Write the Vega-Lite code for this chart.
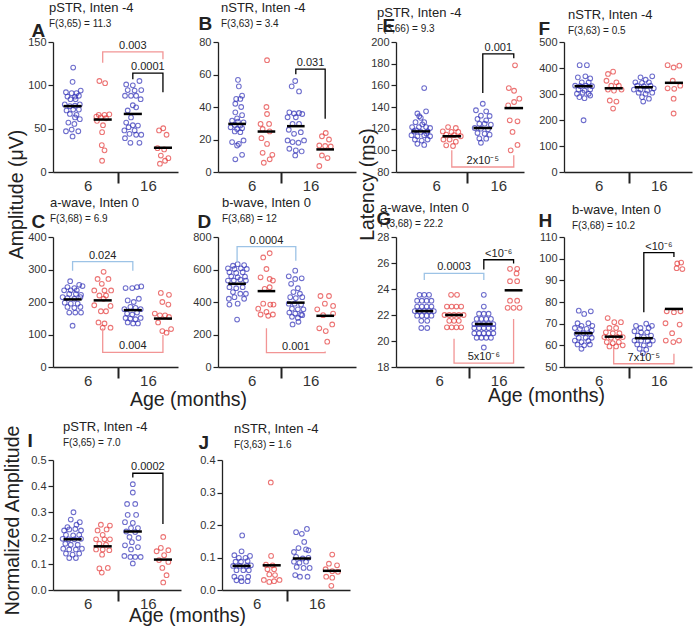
{
"$schema":"https://vega.github.io/schema/vega-lite/v6.json",
"background":"white",
"padding":{"left":1,"top":2,"right":2,"bottom":2},
"config":{
 "view":{"stroke":null},
 "font":"Liberation Sans",
 "axis":{"grid":false,"domainColor":"#222","domainWidth":1.3,"tickColor":"#222","labelColor":"#333","labelFont":"Liberation Sans","titleFont":"Liberation Sans","titleColor":"#222","labelFontSize":11},
 "axisY":{"tickSize":5,"tickWidth":1.2,"labelPadding":2,"titleFontSize":19,"titleFontWeight":"bold","titleAlign":"left","titleBaseline":"alphabetic"},
 "axisX":{"tickSize":11,"tickWidth":2,"labelFontSize":15,"labelPadding":-5,"titleFontSize":19.5,"titleFontWeight":"normal","titleBaseline":"alphabetic","titleAlign":"center"},
 "title":{"anchor":"start","frame":"group","font":"Liberation Sans","fontSize":13,"fontWeight":"normal","color":"#222","subtitleFont":"Liberation Sans","subtitleFontSize":10,"subtitleColor":"#222","subtitlePadding":4},
 "point":{"shape":"circle","filled":false,"size":22,"strokeWidth":1.1},
 "rule":{"strokeWidth":2.5,"color":"#000"},
 "line":{"strokeWidth":1.3},
 "text":{"font":"Liberation Sans","fontSize":11,"baseline":"alphabetic","dy":-3,"color":"#222","align":"center"}
},
"datasets":{
"pts":[
{"p":"A","g":1,"x":1.02,"y":120.5},{"p":"A","g":1,"x":1,"y":104},{"p":"A","g":1,"x":0.78,"y":92},{"p":"A","g":1,"x":0.97,"y":91},{"p":"A","g":1,"x":1.13,"y":91},{"p":"A","g":1,"x":1.27,"y":94},{"p":"A","g":1,"x":0.83,"y":87},{"p":"A","g":1,"x":1.08,"y":87},{"p":"A","g":1,"x":1.21,"y":88},{"p":"A","g":1,"x":0.93,"y":84},{"p":"A","g":1,"x":1.1,"y":84},{"p":"A","g":1,"x":0.74,"y":78},{"p":"A","g":1,"x":0.91,"y":76},{"p":"A","g":1,"x":1.08,"y":76.5},{"p":"A","g":1,"x":1.24,"y":78},{"p":"A","g":1,"x":0.8,"y":71},{"p":"A","g":1,"x":1.02,"y":72},{"p":"A","g":1,"x":1.21,"y":72},{"p":"A","g":1,"x":0.91,"y":67},{"p":"A","g":1,"x":1.13,"y":66},{"p":"A","g":1,"x":1.08,"y":63},{"p":"A","g":1,"x":1.24,"y":61},{"p":"A","g":1,"x":0.86,"y":57},{"p":"A","g":1,"x":1.06,"y":55.5},{"p":"A","g":1,"x":0.78,"y":47},{"p":"A","g":1,"x":0.97,"y":49},{"p":"A","g":1,"x":1.19,"y":47},{"p":"A","g":1,"x":1,"y":41},
{"p":"A","g":2,"x":1.89,"y":105},{"p":"A","g":2,"x":2.08,"y":102.5},{"p":"A","g":2,"x":1.87,"y":66},{"p":"A","g":2,"x":2.06,"y":66},{"p":"A","g":2,"x":2.22,"y":66.5},{"p":"A","g":2,"x":1.79,"y":64},{"p":"A","g":2,"x":1.94,"y":63},{"p":"A","g":2,"x":2.11,"y":62},{"p":"A","g":2,"x":1.81,"y":59},{"p":"A","g":2,"x":2.01,"y":54},{"p":"A","g":2,"x":1.98,"y":46},{"p":"A","g":2,"x":1.97,"y":31},{"p":"A","g":2,"x":2.06,"y":25},{"p":"A","g":2,"x":1.98,"y":13},
{"p":"A","g":3,"x":2.78,"y":101},{"p":"A","g":3,"x":3,"y":100},{"p":"A","g":3,"x":3.22,"y":105},{"p":"A","g":3,"x":2.83,"y":94.5},{"p":"A","g":3,"x":3.06,"y":94},{"p":"A","g":3,"x":3.28,"y":94.5},{"p":"A","g":3,"x":2.74,"y":88},{"p":"A","g":3,"x":2.94,"y":88},{"p":"A","g":3,"x":3.11,"y":88},{"p":"A","g":3,"x":3.26,"y":84},{"p":"A","g":3,"x":3,"y":77},{"p":"A","g":3,"x":3.11,"y":74.6},{"p":"A","g":3,"x":2.83,"y":71},{"p":"A","g":3,"x":2.94,"y":63},{"p":"A","g":3,"x":2.78,"y":57},{"p":"A","g":3,"x":3,"y":54},{"p":"A","g":3,"x":3.17,"y":53.6},{"p":"A","g":3,"x":2.86,"y":51.7},{"p":"A","g":3,"x":3.06,"y":48},{"p":"A","g":3,"x":2.72,"y":48},{"p":"A","g":3,"x":2.89,"y":44},{"p":"A","g":3,"x":3.11,"y":43},{"p":"A","g":3,"x":3.28,"y":43},{"p":"A","g":3,"x":2.74,"y":39},{"p":"A","g":3,"x":2.92,"y":33.7},{"p":"A","g":3,"x":3.22,"y":33.7},
{"p":"A","g":4,"x":4.01,"y":50.5},{"p":"A","g":4,"x":3.87,"y":48},{"p":"A","g":4,"x":4.12,"y":43},{"p":"A","g":4,"x":3.82,"y":27.5},{"p":"A","g":4,"x":4.04,"y":26},{"p":"A","g":4,"x":3.93,"y":19},{"p":"A","g":4,"x":4.18,"y":16},{"p":"A","g":4,"x":4.07,"y":13},{"p":"A","g":4,"x":3.9,"y":9.6},
{"p":"B","g":1,"x":1.03,"y":56.7},{"p":"B","g":1,"x":1.06,"y":52.7},{"p":"B","g":1,"x":1.17,"y":47},{"p":"B","g":1,"x":0.97,"y":45},{"p":"B","g":1,"x":1.11,"y":45},{"p":"B","g":1,"x":0.94,"y":42},{"p":"B","g":1,"x":1.14,"y":40},{"p":"B","g":1,"x":0.94,"y":36.7},{"p":"B","g":1,"x":1.17,"y":35},{"p":"B","g":1,"x":1,"y":33},{"p":"B","g":1,"x":0.83,"y":31.6},{"p":"B","g":1,"x":1.03,"y":31},{"p":"B","g":1,"x":1.22,"y":30.6},{"p":"B","g":1,"x":0.92,"y":29},{"p":"B","g":1,"x":1.11,"y":28.6},{"p":"B","g":1,"x":0.78,"y":27.5},{"p":"B","g":1,"x":1,"y":26.5},{"p":"B","g":1,"x":1.17,"y":27},{"p":"B","g":1,"x":0.92,"y":25},{"p":"B","g":1,"x":1.11,"y":24.5},{"p":"B","g":1,"x":1.22,"y":19.4},{"p":"B","g":1,"x":0.83,"y":18.4},{"p":"B","g":1,"x":1.06,"y":17.3},{"p":"B","g":1,"x":1,"y":16.3},{"p":"B","g":1,"x":1.17,"y":10.6},{"p":"B","g":1,"x":0.94,"y":7.8},
{"p":"B","g":2,"x":2.02,"y":68.8},{"p":"B","g":2,"x":2,"y":40},{"p":"B","g":2,"x":2.02,"y":35.7},{"p":"B","g":2,"x":1.8,"y":29.6},{"p":"B","g":2,"x":2.09,"y":29.6},{"p":"B","g":2,"x":1.87,"y":26.5},{"p":"B","g":2,"x":2.11,"y":25},{"p":"B","g":2,"x":1.83,"y":20.8},{"p":"B","g":2,"x":2.02,"y":17.3},{"p":"B","g":2,"x":1.87,"y":11.8},{"p":"B","g":2,"x":2.2,"y":10.6},{"p":"B","g":2,"x":2.11,"y":7.8},{"p":"B","g":2,"x":1.91,"y":5.7},
{"p":"B","g":3,"x":2.98,"y":56},{"p":"B","g":3,"x":2.86,"y":52.7},{"p":"B","g":3,"x":3.11,"y":49.6},{"p":"B","g":3,"x":2.78,"y":36.7},{"p":"B","g":3,"x":2.94,"y":36},{"p":"B","g":3,"x":3.11,"y":36.3},{"p":"B","g":3,"x":3.22,"y":35.7},{"p":"B","g":3,"x":2.72,"y":33.7},{"p":"B","g":3,"x":3,"y":33.7},{"p":"B","g":3,"x":2.89,"y":29.6},{"p":"B","g":3,"x":3.11,"y":29.6},{"p":"B","g":3,"x":2.76,"y":26},{"p":"B","g":3,"x":2.94,"y":23.5},{"p":"B","g":3,"x":3.17,"y":24.5},{"p":"B","g":3,"x":2.72,"y":19.4},{"p":"B","g":3,"x":2.89,"y":18.4},{"p":"B","g":3,"x":3.09,"y":18},{"p":"B","g":3,"x":3.28,"y":19.4},{"p":"B","g":3,"x":2.78,"y":14.3},{"p":"B","g":3,"x":3,"y":13.3},{"p":"B","g":3,"x":3.2,"y":12.7},{"p":"B","g":3,"x":2.98,"y":10.2},
{"p":"B","g":4,"x":4.02,"y":24},{"p":"B","g":4,"x":3.89,"y":22},{"p":"B","g":4,"x":4.13,"y":20},{"p":"B","g":4,"x":3.8,"y":16.3},{"p":"B","g":4,"x":4,"y":16},{"p":"B","g":4,"x":4.19,"y":15.7},{"p":"B","g":4,"x":3.89,"y":10.2},{"p":"B","g":4,"x":4.08,"y":8.6},{"p":"B","g":4,"x":3.8,"y":3.7},
{"p":"C","g":1,"x":0.92,"y":264},{"p":"C","g":1,"x":1.22,"y":253},{"p":"C","g":1,"x":0.83,"y":246},{"p":"C","g":1,"x":1.06,"y":243},{"p":"C","g":1,"x":1.33,"y":249},{"p":"C","g":1,"x":0.72,"y":236},{"p":"C","g":1,"x":0.94,"y":236},{"p":"C","g":1,"x":1.14,"y":236},{"p":"C","g":1,"x":0.89,"y":225},{"p":"C","g":1,"x":1.11,"y":225},{"p":"C","g":1,"x":1.28,"y":222},{"p":"C","g":1,"x":0.67,"y":215},{"p":"C","g":1,"x":0.83,"y":212},{"p":"C","g":1,"x":1.06,"y":210},{"p":"C","g":1,"x":1.26,"y":215},{"p":"C","g":1,"x":0.74,"y":198},{"p":"C","g":1,"x":0.94,"y":195},{"p":"C","g":1,"x":1.17,"y":195},{"p":"C","g":1,"x":0.83,"y":185},{"p":"C","g":1,"x":1.06,"y":182},{"p":"C","g":1,"x":1.26,"y":185},{"p":"C","g":1,"x":0.89,"y":167.5},{"p":"C","g":1,"x":1.09,"y":167.5},{"p":"C","g":1,"x":1.28,"y":167.5},{"p":"C","g":1,"x":1,"y":127},
{"p":"C","g":2,"x":2.03,"y":293},{"p":"C","g":2,"x":1.83,"y":271},{"p":"C","g":2,"x":2.19,"y":271},{"p":"C","g":2,"x":1.97,"y":256},{"p":"C","g":2,"x":1.72,"y":235.5},{"p":"C","g":2,"x":2.06,"y":235.5},{"p":"C","g":2,"x":1.89,"y":220},{"p":"C","g":2,"x":2.11,"y":220},{"p":"C","g":2,"x":2.28,"y":235.5},{"p":"C","g":2,"x":2.03,"y":210},{"p":"C","g":2,"x":1.72,"y":190},{"p":"C","g":2,"x":1.94,"y":171.6},{"p":"C","g":2,"x":2.11,"y":171.6},{"p":"C","g":2,"x":2.26,"y":188},{"p":"C","g":2,"x":1.86,"y":137},{"p":"C","g":2,"x":2.06,"y":134},{"p":"C","g":2,"x":2,"y":121},{"p":"C","g":2,"x":2.26,"y":121},
{"p":"C","g":3,"x":2.76,"y":243},{"p":"C","g":3,"x":2.98,"y":243},{"p":"C","g":3,"x":3.14,"y":246},{"p":"C","g":3,"x":3.28,"y":248},{"p":"C","g":3,"x":2.83,"y":205},{"p":"C","g":3,"x":3.03,"y":200},{"p":"C","g":3,"x":3.2,"y":210},{"p":"C","g":3,"x":2.92,"y":185},{"p":"C","g":3,"x":3.09,"y":182},{"p":"C","g":3,"x":2.81,"y":164.5},{"p":"C","g":3,"x":2.98,"y":161.4},{"p":"C","g":3,"x":3.14,"y":167.5},{"p":"C","g":3,"x":2.76,"y":151},{"p":"C","g":3,"x":2.92,"y":149},{"p":"C","g":3,"x":3.09,"y":147},{"p":"C","g":3,"x":3.26,"y":151},{"p":"C","g":3,"x":2.83,"y":137},{"p":"C","g":3,"x":3.01,"y":134},{"p":"C","g":3,"x":3.17,"y":134},{"p":"C","g":3,"x":2.72,"y":178},{"p":"C","g":3,"x":3.26,"y":178},
{"p":"C","g":4,"x":3.93,"y":228},{"p":"C","g":4,"x":4.2,"y":222},{"p":"C","g":4,"x":3.98,"y":200},{"p":"C","g":4,"x":4.18,"y":192},{"p":"C","g":4,"x":3.73,"y":164.5},{"p":"C","g":4,"x":3.9,"y":159},{"p":"C","g":4,"x":4.07,"y":159},{"p":"C","g":4,"x":4.2,"y":154},{"p":"C","g":4,"x":3.84,"y":137},{"p":"C","g":4,"x":3.98,"y":110.7},{"p":"C","g":4,"x":4.27,"y":116.8},{"p":"C","g":4,"x":4.12,"y":105.6},
{"p":"D","g":1,"x":1.02,"y":633},{"p":"D","g":1,"x":0.86,"y":623},{"p":"D","g":1,"x":1.24,"y":627},{"p":"D","g":1,"x":0.69,"y":607},{"p":"D","g":1,"x":0.91,"y":603},{"p":"D","g":1,"x":1.13,"y":607},{"p":"D","g":1,"x":1.33,"y":603},{"p":"D","g":1,"x":0.74,"y":583},{"p":"D","g":1,"x":0.97,"y":579},{"p":"D","g":1,"x":1.19,"y":583},{"p":"D","g":1,"x":0.8,"y":558},{"p":"D","g":1,"x":1.02,"y":552},{"p":"D","g":1,"x":1.27,"y":556},{"p":"D","g":1,"x":0.69,"y":532},{"p":"D","g":1,"x":0.89,"y":532},{"p":"D","g":1,"x":1.11,"y":538},{"p":"D","g":1,"x":1.3,"y":532},{"p":"D","g":1,"x":0.74,"y":491},{"p":"D","g":1,"x":0.97,"y":485},{"p":"D","g":1,"x":1.19,"y":491},{"p":"D","g":1,"x":0.86,"y":461},{"p":"D","g":1,"x":1.11,"y":451},{"p":"D","g":1,"x":1.3,"y":451},{"p":"D","g":1,"x":0.91,"y":430},{"p":"D","g":1,"x":0.72,"y":420},{"p":"D","g":1,"x":1.24,"y":420},{"p":"D","g":1,"x":1.02,"y":390},{"p":"D","g":1,"x":0.74,"y":384},{"p":"D","g":1,"x":1,"y":292},
{"p":"D","g":2,"x":2.11,"y":700},{"p":"D","g":2,"x":1.89,"y":674},{"p":"D","g":2,"x":2,"y":603},{"p":"D","g":2,"x":1.8,"y":552},{"p":"D","g":2,"x":2.11,"y":542},{"p":"D","g":2,"x":2.22,"y":532},{"p":"D","g":2,"x":1.94,"y":481},{"p":"D","g":2,"x":2.11,"y":491},{"p":"D","g":2,"x":1.89,"y":390},{"p":"D","g":2,"x":2.13,"y":384},{"p":"D","g":2,"x":2.24,"y":384},{"p":"D","g":2,"x":1.72,"y":359},{"p":"D","g":2,"x":2,"y":339},{"p":"D","g":2,"x":1.8,"y":323},{"p":"D","g":2,"x":2.06,"y":315},{"p":"D","g":2,"x":2.22,"y":323},
{"p":"D","g":3,"x":2.98,"y":593},{"p":"D","g":3,"x":2.76,"y":558},{"p":"D","g":3,"x":2.98,"y":542},{"p":"D","g":3,"x":3.2,"y":546},{"p":"D","g":3,"x":2.84,"y":512},{"p":"D","g":3,"x":3.07,"y":485},{"p":"D","g":3,"x":2.92,"y":461},{"p":"D","g":3,"x":3.14,"y":451},{"p":"D","g":3,"x":2.81,"y":430},{"p":"D","g":3,"x":3,"y":424},{"p":"D","g":3,"x":3.22,"y":430},{"p":"D","g":3,"x":2.76,"y":390},{"p":"D","g":3,"x":2.96,"y":390},{"p":"D","g":3,"x":3.18,"y":384},{"p":"D","g":3,"x":2.87,"y":359},{"p":"D","g":3,"x":3.07,"y":355},{"p":"D","g":3,"x":3.26,"y":355},{"p":"D","g":3,"x":2.78,"y":335},{"p":"D","g":3,"x":2.98,"y":329},{"p":"D","g":3,"x":3.18,"y":323},{"p":"D","g":3,"x":2.87,"y":309},{"p":"D","g":3,"x":3.07,"y":302},{"p":"D","g":3,"x":3.22,"y":319},{"p":"D","g":3,"x":2.89,"y":262},{"p":"D","g":3,"x":3.09,"y":278},
{"p":"D","g":4,"x":3.84,"y":437},{"p":"D","g":4,"x":4.13,"y":437},{"p":"D","g":4,"x":3.99,"y":390},{"p":"D","g":4,"x":4.27,"y":376},{"p":"D","g":4,"x":3.73,"y":355},{"p":"D","g":4,"x":3.93,"y":319},{"p":"D","g":4,"x":4.27,"y":329},{"p":"D","g":4,"x":3.8,"y":238},{"p":"D","g":4,"x":4.02,"y":221},{"p":"D","g":4,"x":4.24,"y":262},{"p":"D","g":4,"x":4.07,"y":156},
{"p":"E","g":1,"x":1.11,"y":157.5},{"p":"E","g":1,"x":0.89,"y":134},{"p":"E","g":1,"x":1.17,"y":136},{"p":"E","g":1,"x":1,"y":130},{"p":"E","g":1,"x":0.83,"y":126},{"p":"E","g":1,"x":1.11,"y":126},{"p":"E","g":1,"x":0.72,"y":121.5},{"p":"E","g":1,"x":0.94,"y":121.5},{"p":"E","g":1,"x":1.17,"y":121.5},{"p":"E","g":1,"x":1.3,"y":120.6},{"p":"E","g":1,"x":0.78,"y":117.5},{"p":"E","g":1,"x":1,"y":117},{"p":"E","g":1,"x":1.22,"y":117.5},{"p":"E","g":1,"x":0.7,"y":114},{"p":"E","g":1,"x":0.89,"y":113},{"p":"E","g":1,"x":1.11,"y":114},{"p":"E","g":1,"x":1.3,"y":113},{"p":"E","g":1,"x":0.81,"y":110},{"p":"E","g":1,"x":1.03,"y":109},{"p":"E","g":1,"x":1.22,"y":110},{"p":"E","g":1,"x":0.89,"y":106},{"p":"E","g":1,"x":1.11,"y":105},{"p":"E","g":1,"x":0.95,"y":131.5},{"p":"E","g":1,"x":1.05,"y":124},{"p":"E","g":1,"x":0.85,"y":118.5},{"p":"E","g":1,"x":1.18,"y":115.5},
{"p":"E","g":2,"x":1.88,"y":121.5},{"p":"E","g":2,"x":2.13,"y":120.6},{"p":"E","g":2,"x":1.71,"y":117.5},{"p":"E","g":2,"x":1.99,"y":117},{"p":"E","g":2,"x":2.21,"y":117},{"p":"E","g":2,"x":1.82,"y":114.5},{"p":"E","g":2,"x":2.07,"y":114},{"p":"E","g":2,"x":2.29,"y":113},{"p":"E","g":2,"x":1.73,"y":110},{"p":"E","g":2,"x":1.93,"y":110},{"p":"E","g":2,"x":2.13,"y":108},{"p":"E","g":2,"x":1.82,"y":104.6},{"p":"E","g":2,"x":2.04,"y":104},
{"p":"E","g":3,"x":3,"y":143},{"p":"E","g":3,"x":2.78,"y":137},{"p":"E","g":3,"x":3.11,"y":136},{"p":"E","g":3,"x":2.94,"y":132},{"p":"E","g":3,"x":3.22,"y":131.7},{"p":"E","g":3,"x":2.83,"y":129},{"p":"E","g":3,"x":3.11,"y":127.7},{"p":"E","g":3,"x":2.89,"y":124.6},{"p":"E","g":3,"x":3.06,"y":124.6},{"p":"E","g":3,"x":3.26,"y":123.7},{"p":"E","g":3,"x":2.74,"y":120.6},{"p":"E","g":3,"x":2.94,"y":120},{"p":"E","g":3,"x":3.17,"y":119.4},{"p":"E","g":3,"x":2.83,"y":116},{"p":"E","g":3,"x":3.06,"y":115.4},{"p":"E","g":3,"x":3.22,"y":114.5},{"p":"E","g":3,"x":2.89,"y":111},{"p":"E","g":3,"x":3.11,"y":110.8},{"p":"E","g":3,"x":2.94,"y":107},
{"p":"E","g":4,"x":4.04,"y":178.5},{"p":"E","g":4,"x":3.84,"y":157.5},{"p":"E","g":4,"x":4.01,"y":155},{"p":"E","g":4,"x":4.18,"y":147.7},{"p":"E","g":4,"x":4.01,"y":144.6},{"p":"E","g":4,"x":3.82,"y":141.5},{"p":"E","g":4,"x":3.87,"y":127.7},{"p":"E","g":4,"x":4.12,"y":126.8},{"p":"E","g":4,"x":3.96,"y":117},{"p":"E","g":4,"x":4.12,"y":105},{"p":"E","g":4,"x":3.9,"y":100},
{"p":"F","g":1,"x":0.87,"y":411},{"p":"F","g":1,"x":1.11,"y":411},{"p":"F","g":1,"x":0.81,"y":364},{"p":"F","g":1,"x":1.06,"y":368},{"p":"F","g":1,"x":1.22,"y":360},{"p":"F","g":1,"x":0.94,"y":345},{"p":"F","g":1,"x":1.17,"y":345},{"p":"F","g":1,"x":0.72,"y":332},{"p":"F","g":1,"x":0.89,"y":330},{"p":"F","g":1,"x":1.08,"y":332},{"p":"F","g":1,"x":1.28,"y":330},{"p":"F","g":1,"x":0.83,"y":317},{"p":"F","g":1,"x":1.03,"y":313},{"p":"F","g":1,"x":1.22,"y":317},{"p":"F","g":1,"x":0.97,"y":305},{"p":"F","g":1,"x":0.78,"y":301},{"p":"F","g":1,"x":1.17,"y":301},{"p":"F","g":1,"x":0.86,"y":288},{"p":"F","g":1,"x":1.03,"y":284},{"p":"F","g":1,"x":1.22,"y":294},{"p":"F","g":1,"x":1,"y":199},
{"p":"F","g":2,"x":1.98,"y":386},{"p":"F","g":2,"x":1.81,"y":377},{"p":"F","g":2,"x":2.09,"y":345},{"p":"F","g":2,"x":1.76,"y":351},{"p":"F","g":2,"x":1.92,"y":332},{"p":"F","g":2,"x":2.17,"y":332},{"p":"F","g":2,"x":1.81,"y":317},{"p":"F","g":2,"x":2.01,"y":313},{"p":"F","g":2,"x":2.26,"y":317},{"p":"F","g":2,"x":1.87,"y":275},{"p":"F","g":2,"x":2.09,"y":271},{"p":"F","g":2,"x":1.98,"y":244},
{"p":"F","g":3,"x":2.89,"y":364},{"p":"F","g":3,"x":3.28,"y":368},{"p":"F","g":3,"x":3.06,"y":355},{"p":"F","g":3,"x":2.72,"y":345},{"p":"F","g":3,"x":2.94,"y":343},{"p":"F","g":3,"x":3.17,"y":345},{"p":"F","g":3,"x":2.78,"y":332},{"p":"F","g":3,"x":3,"y":330},{"p":"F","g":3,"x":3.22,"y":332},{"p":"F","g":3,"x":3.33,"y":322},{"p":"F","g":3,"x":2.67,"y":317},{"p":"F","g":3,"x":2.89,"y":317},{"p":"F","g":3,"x":3.11,"y":313},{"p":"F","g":3,"x":2.83,"y":305},{"p":"F","g":3,"x":3.06,"y":301},{"p":"F","g":3,"x":3.28,"y":305},{"p":"F","g":3,"x":2.94,"y":288},{"p":"F","g":3,"x":3.17,"y":282},{"p":"F","g":3,"x":2.98,"y":271},
{"p":"F","g":4,"x":3.79,"y":411},{"p":"F","g":4,"x":3.99,"y":402},{"p":"F","g":4,"x":4.18,"y":409},{"p":"F","g":4,"x":3.96,"y":351},{"p":"F","g":4,"x":4.21,"y":332},{"p":"F","g":4,"x":3.79,"y":322},{"p":"F","g":4,"x":4.01,"y":320},{"p":"F","g":4,"x":3.99,"y":282},{"p":"F","g":4,"x":3.99,"y":225},
{"p":"G","g":1,"x":0.84,"y":23.55},{"p":"G","g":1,"x":1,"y":23.55},{"p":"G","g":1,"x":1.16,"y":23.55},{"p":"G","g":1,"x":0.76,"y":23.1},{"p":"G","g":1,"x":0.92,"y":23.1},{"p":"G","g":1,"x":1.08,"y":23.1},{"p":"G","g":1,"x":1.24,"y":23.1},{"p":"G","g":1,"x":0.76,"y":22.65},{"p":"G","g":1,"x":0.92,"y":22.65},{"p":"G","g":1,"x":1.08,"y":22.65},{"p":"G","g":1,"x":1.24,"y":22.65},{"p":"G","g":1,"x":0.68,"y":22.3},{"p":"G","g":1,"x":0.84,"y":22.3},{"p":"G","g":1,"x":1,"y":22.3},{"p":"G","g":1,"x":1.16,"y":22.3},{"p":"G","g":1,"x":1.32,"y":22.3},{"p":"G","g":1,"x":0.76,"y":21.95},{"p":"G","g":1,"x":0.92,"y":21.95},{"p":"G","g":1,"x":1.08,"y":21.95},{"p":"G","g":1,"x":1.24,"y":21.95},{"p":"G","g":1,"x":0.9,"y":21.55},{"p":"G","g":1,"x":1.1,"y":21.55},{"p":"G","g":1,"x":0.9,"y":21},{"p":"G","g":1,"x":1.1,"y":21},
{"p":"G","g":2,"x":1.9,"y":23.55},{"p":"G","g":2,"x":2.1,"y":23.55},{"p":"G","g":2,"x":1.76,"y":22.65},{"p":"G","g":2,"x":1.92,"y":22.65},{"p":"G","g":2,"x":2.08,"y":22.65},{"p":"G","g":2,"x":2.24,"y":22.65},{"p":"G","g":2,"x":1.68,"y":22},{"p":"G","g":2,"x":1.84,"y":22},{"p":"G","g":2,"x":2,"y":22},{"p":"G","g":2,"x":2.16,"y":22},{"p":"G","g":2,"x":2.32,"y":22},{"p":"G","g":2,"x":1.84,"y":21.55},{"p":"G","g":2,"x":2,"y":21.55},{"p":"G","g":2,"x":2.16,"y":21.55},{"p":"G","g":2,"x":1.76,"y":21.05},{"p":"G","g":2,"x":1.92,"y":21.05},{"p":"G","g":2,"x":2.08,"y":21.05},{"p":"G","g":2,"x":2.24,"y":21.05},
{"p":"G","g":3,"x":3,"y":23.55},{"p":"G","g":3,"x":3,"y":22.65},{"p":"G","g":3,"x":2.84,"y":22.1},{"p":"G","g":3,"x":3,"y":22.1},{"p":"G","g":3,"x":3.16,"y":22.1},{"p":"G","g":3,"x":2.76,"y":21.7},{"p":"G","g":3,"x":2.92,"y":21.7},{"p":"G","g":3,"x":3.08,"y":21.7},{"p":"G","g":3,"x":3.24,"y":21.7},{"p":"G","g":3,"x":2.68,"y":21.3},{"p":"G","g":3,"x":2.84,"y":21.3},{"p":"G","g":3,"x":3,"y":21.3},{"p":"G","g":3,"x":3.16,"y":21.3},{"p":"G","g":3,"x":3.32,"y":21.3},{"p":"G","g":3,"x":2.68,"y":21},{"p":"G","g":3,"x":2.84,"y":21},{"p":"G","g":3,"x":3,"y":21},{"p":"G","g":3,"x":3.16,"y":21},{"p":"G","g":3,"x":3.32,"y":21},{"p":"G","g":3,"x":2.68,"y":20.6},{"p":"G","g":3,"x":2.84,"y":20.6},{"p":"G","g":3,"x":3,"y":20.6},{"p":"G","g":3,"x":3.16,"y":20.6},{"p":"G","g":3,"x":3.32,"y":20.6},{"p":"G","g":3,"x":2.76,"y":20.25},{"p":"G","g":3,"x":2.92,"y":20.25},{"p":"G","g":3,"x":3.08,"y":20.25},{"p":"G","g":3,"x":3.24,"y":20.25},{"p":"G","g":3,"x":3,"y":19.5},
{"p":"G","g":4,"x":3.88,"y":25.55},{"p":"G","g":4,"x":4.12,"y":25.55},{"p":"G","g":4,"x":4.1,"y":25.2},{"p":"G","g":4,"x":3.88,"y":24.6},{"p":"G","g":4,"x":4.12,"y":24.6},{"p":"G","g":4,"x":3.88,"y":23.1},{"p":"G","g":4,"x":4.12,"y":23.1},{"p":"G","g":4,"x":3.8,"y":22.55},{"p":"G","g":4,"x":4,"y":22.55},{"p":"G","g":4,"x":4.2,"y":22.55},
{"p":"H","g":1,"x":0.84,"y":76},{"p":"H","g":1,"x":1.24,"y":75.7},{"p":"H","g":1,"x":1.02,"y":74.5},{"p":"H","g":1,"x":0.8,"y":70.2},{"p":"H","g":1,"x":1.16,"y":70.2},{"p":"H","g":1,"x":0.93,"y":69},{"p":"H","g":1,"x":1.29,"y":69},{"p":"H","g":1,"x":0.71,"y":68},{"p":"H","g":1,"x":0.88,"y":67.6},{"p":"H","g":1,"x":1.1,"y":67.6},{"p":"H","g":1,"x":1.27,"y":66.8},{"p":"H","g":1,"x":0.77,"y":65.3},{"p":"H","g":1,"x":0.99,"y":65.6},{"p":"H","g":1,"x":1.21,"y":65.3},{"p":"H","g":1,"x":0.84,"y":63.5},{"p":"H","g":1,"x":1.07,"y":63.5},{"p":"H","g":1,"x":1.27,"y":63.5},{"p":"H","g":1,"x":0.71,"y":62.2},{"p":"H","g":1,"x":0.93,"y":61.5},{"p":"H","g":1,"x":1.16,"y":62},{"p":"H","g":1,"x":0.8,"y":60.4},{"p":"H","g":1,"x":1.02,"y":60},{"p":"H","g":1,"x":1.21,"y":60.4},{"p":"H","g":1,"x":0.93,"y":58.4},
{"p":"H","g":2,"x":1.8,"y":72.6},{"p":"H","g":2,"x":2.02,"y":70.7},{"p":"H","g":2,"x":2.24,"y":70.7},{"p":"H","g":2,"x":1.86,"y":68},{"p":"H","g":2,"x":2.08,"y":68},{"p":"H","g":2,"x":1.74,"y":66},{"p":"H","g":2,"x":1.97,"y":65.6},{"p":"H","g":2,"x":2.19,"y":65.6},{"p":"H","g":2,"x":1.69,"y":63.8},{"p":"H","g":2,"x":1.91,"y":63.5},{"p":"H","g":2,"x":2.13,"y":63.8},{"p":"H","g":2,"x":2.3,"y":63.8},{"p":"H","g":2,"x":1.77,"y":61.5},{"p":"H","g":2,"x":1.97,"y":61},{"p":"H","g":2,"x":2.17,"y":61.5},{"p":"H","g":2,"x":1.86,"y":59.5},{"p":"H","g":2,"x":2.08,"y":59.5},{"p":"H","g":2,"x":2.3,"y":60},
{"p":"H","g":3,"x":2.74,"y":69},{"p":"H","g":3,"x":3.08,"y":70},{"p":"H","g":3,"x":3.27,"y":69},{"p":"H","g":3,"x":2.89,"y":68},{"p":"H","g":3,"x":3.16,"y":68},{"p":"H","g":3,"x":2.69,"y":66.5},{"p":"H","g":3,"x":2.91,"y":66},{"p":"H","g":3,"x":3.11,"y":66},{"p":"H","g":3,"x":2.8,"y":64.5},{"p":"H","g":3,"x":3,"y":63.8},{"p":"H","g":3,"x":3.24,"y":64.5},{"p":"H","g":3,"x":2.69,"y":62.2},{"p":"H","g":3,"x":2.91,"y":62.2},{"p":"H","g":3,"x":3.13,"y":62},{"p":"H","g":3,"x":3.3,"y":62.2},{"p":"H","g":3,"x":2.78,"y":60.4},{"p":"H","g":3,"x":3,"y":60},{"p":"H","g":3,"x":3.19,"y":60.4},{"p":"H","g":3,"x":2.86,"y":58.4},{"p":"H","g":3,"x":3.08,"y":58},{"p":"H","g":3,"x":2.97,"y":56.4},
{"p":"H","g":4,"x":4.11,"y":97.8},{"p":"H","g":4,"x":4.24,"y":98.2},{"p":"H","g":4,"x":4.09,"y":95.6},{"p":"H","g":4,"x":4.28,"y":95.2},{"p":"H","g":4,"x":3.76,"y":75.7},{"p":"H","g":4,"x":4,"y":75.3},{"p":"H","g":4,"x":4.22,"y":75.7},{"p":"H","g":4,"x":3.72,"y":70.2},{"p":"H","g":4,"x":4.19,"y":69.6},{"p":"H","g":4,"x":3.94,"y":65.6},{"p":"H","g":4,"x":3.73,"y":62.2},{"p":"H","g":4,"x":3.98,"y":61.5},{"p":"H","g":4,"x":4.17,"y":62.2},
{"p":"I","g":1,"x":1.03,"y":0.299},{"p":"I","g":1,"x":0.94,"y":0.271},{"p":"I","g":1,"x":1.24,"y":0.261},{"p":"I","g":1,"x":0.83,"y":0.242},{"p":"I","g":1,"x":1.13,"y":0.251},{"p":"I","g":1,"x":0.72,"y":0.229},{"p":"I","g":1,"x":0.89,"y":0.233},{"p":"I","g":1,"x":1.09,"y":0.235},{"p":"I","g":1,"x":1.28,"y":0.229},{"p":"I","g":1,"x":0.78,"y":0.212},{"p":"I","g":1,"x":1.02,"y":0.21},{"p":"I","g":1,"x":1.22,"y":0.212},{"p":"I","g":1,"x":0.67,"y":0.197},{"p":"I","g":1,"x":0.87,"y":0.195},{"p":"I","g":1,"x":1.06,"y":0.195},{"p":"I","g":1,"x":1.28,"y":0.197},{"p":"I","g":1,"x":0.76,"y":0.178},{"p":"I","g":1,"x":0.94,"y":0.174},{"p":"I","g":1,"x":1.17,"y":0.174},{"p":"I","g":1,"x":0.69,"y":0.159},{"p":"I","g":1,"x":0.89,"y":0.156},{"p":"I","g":1,"x":1.11,"y":0.156},{"p":"I","g":1,"x":1.31,"y":0.159},{"p":"I","g":1,"x":0.78,"y":0.14},{"p":"I","g":1,"x":1,"y":0.136},{"p":"I","g":1,"x":1.22,"y":0.14},{"p":"I","g":1,"x":0.89,"y":0.123},{"p":"I","g":1,"x":1.11,"y":0.123},
{"p":"I","g":2,"x":1.94,"y":0.251},{"p":"I","g":2,"x":2.24,"y":0.248},{"p":"I","g":2,"x":1.83,"y":0.229},{"p":"I","g":2,"x":2.13,"y":0.233},{"p":"I","g":2,"x":2,"y":0.212},{"p":"I","g":2,"x":1.78,"y":0.195},{"p":"I","g":2,"x":2.06,"y":0.195},{"p":"I","g":2,"x":2.24,"y":0.195},{"p":"I","g":2,"x":1.89,"y":0.178},{"p":"I","g":2,"x":2.11,"y":0.174},{"p":"I","g":2,"x":1.78,"y":0.156},{"p":"I","g":2,"x":2,"y":0.156},{"p":"I","g":2,"x":2.22,"y":0.153},{"p":"I","g":2,"x":1.98,"y":0.136},{"p":"I","g":2,"x":1.89,"y":0.083},{"p":"I","g":2,"x":2.17,"y":0.085},{"p":"I","g":2,"x":1.97,"y":0.067},
{"p":"I","g":3,"x":3,"y":0.407},{"p":"I","g":3,"x":3,"y":0.375},{"p":"I","g":3,"x":2.81,"y":0.331},{"p":"I","g":3,"x":3.08,"y":0.331},{"p":"I","g":3,"x":2.83,"y":0.289},{"p":"I","g":3,"x":3.11,"y":0.289},{"p":"I","g":3,"x":2.74,"y":0.261},{"p":"I","g":3,"x":3,"y":0.258},{"p":"I","g":3,"x":2.94,"y":0.238},{"p":"I","g":3,"x":3.17,"y":0.238},{"p":"I","g":3,"x":2.78,"y":0.225},{"p":"I","g":3,"x":3.08,"y":0.223},{"p":"I","g":3,"x":2.89,"y":0.204},{"p":"I","g":3,"x":3.19,"y":0.2},{"p":"I","g":3,"x":2.97,"y":0.184},{"p":"I","g":3,"x":2.74,"y":0.172},{"p":"I","g":3,"x":3.17,"y":0.165},{"p":"I","g":3,"x":2.94,"y":0.156},{"p":"I","g":3,"x":2.72,"y":0.131},{"p":"I","g":3,"x":2.92,"y":0.127},{"p":"I","g":3,"x":3.08,"y":0.127},{"p":"I","g":3,"x":3.26,"y":0.127},{"p":"I","g":3,"x":3,"y":0.102},
{"p":"I","g":4,"x":4.01,"y":0.204},{"p":"I","g":4,"x":3.93,"y":0.162},{"p":"I","g":4,"x":4.18,"y":0.153},{"p":"I","g":4,"x":3.79,"y":0.149},{"p":"I","g":4,"x":4.04,"y":0.134},{"p":"I","g":4,"x":3.87,"y":0.115},{"p":"I","g":4,"x":4.18,"y":0.108},{"p":"I","g":4,"x":3.98,"y":0.085},{"p":"I","g":4,"x":4.12,"y":0.057},{"p":"I","g":4,"x":4.01,"y":0.029},
{"p":"J","g":1,"x":1.02,"y":0.168},{"p":"J","g":1,"x":1,"y":0.119},{"p":"J","g":1,"x":0.76,"y":0.107},{"p":"J","g":1,"x":0.91,"y":0.099},{"p":"J","g":1,"x":1.13,"y":0.099},{"p":"J","g":1,"x":1.28,"y":0.105},{"p":"J","g":1,"x":0.8,"y":0.087},{"p":"J","g":1,"x":0.98,"y":0.087},{"p":"J","g":1,"x":1.2,"y":0.089},{"p":"J","g":1,"x":0.72,"y":0.074},{"p":"J","g":1,"x":0.94,"y":0.074},{"p":"J","g":1,"x":1.17,"y":0.074},{"p":"J","g":1,"x":1.31,"y":0.076},{"p":"J","g":1,"x":0.83,"y":0.061},{"p":"J","g":1,"x":1.06,"y":0.061},{"p":"J","g":1,"x":1.24,"y":0.061},{"p":"J","g":1,"x":0.76,"y":0.041},{"p":"J","g":1,"x":0.98,"y":0.038},{"p":"J","g":1,"x":1.22,"y":0.041},{"p":"J","g":1,"x":1,"y":0.027},{"p":"J","g":1,"x":0.83,"y":0.03},{"p":"J","g":1,"x":1.2,"y":0.027},
{"p":"J","g":2,"x":1.97,"y":0.331},{"p":"J","g":2,"x":1.98,"y":0.105},{"p":"J","g":2,"x":1.81,"y":0.078},{"p":"J","g":2,"x":2.03,"y":0.076},{"p":"J","g":2,"x":1.86,"y":0.064},{"p":"J","g":2,"x":2.08,"y":0.064},{"p":"J","g":2,"x":1.92,"y":0.048},{"p":"J","g":2,"x":2.11,"y":0.046},{"p":"J","g":2,"x":1.74,"y":0.031},{"p":"J","g":2,"x":1.92,"y":0.025},{"p":"J","g":2,"x":2.08,"y":0.027},{"p":"J","g":2,"x":2.26,"y":0.031},
{"p":"J","g":3,"x":3.17,"y":0.188},{"p":"J","g":3,"x":2.81,"y":0.178},{"p":"J","g":3,"x":3,"y":0.173},{"p":"J","g":3,"x":3.08,"y":0.148},{"p":"J","g":3,"x":2.89,"y":0.129},{"p":"J","g":3,"x":3.14,"y":0.125},{"p":"J","g":3,"x":2.74,"y":0.117},{"p":"J","g":3,"x":3.22,"y":0.122},{"p":"J","g":3,"x":2.81,"y":0.102},{"p":"J","g":3,"x":3.03,"y":0.097},{"p":"J","g":3,"x":3.22,"y":0.099},{"p":"J","g":3,"x":2.74,"y":0.087},{"p":"J","g":3,"x":2.92,"y":0.084},{"p":"J","g":3,"x":3.14,"y":0.087},{"p":"J","g":3,"x":2.83,"y":0.071},{"p":"J","g":3,"x":3.06,"y":0.068},{"p":"J","g":3,"x":3.26,"y":0.068},{"p":"J","g":3,"x":2.78,"y":0.046},{"p":"J","g":3,"x":2.94,"y":0.041},{"p":"J","g":3,"x":3.19,"y":0.041},
{"p":"J","g":4,"x":4.01,"y":0.109},{"p":"J","g":4,"x":3.9,"y":0.081},{"p":"J","g":4,"x":4.17,"y":0.076},{"p":"J","g":4,"x":3.79,"y":0.064},{"p":"J","g":4,"x":4.01,"y":0.058},{"p":"J","g":4,"x":4.2,"y":0.056},{"p":"J","g":4,"x":3.81,"y":0.041},{"p":"J","g":4,"x":4.01,"y":0.038},{"p":"J","g":4,"x":3.98,"y":0.013}
],
"means":[
{"p":"A","x":0.7,"x2":1.3,"y":76},{"p":"A","x":1.7,"x2":2.3,"y":60.5},{"p":"A","x":2.7,"x2":3.3,"y":67},{"p":"A","x":3.7,"x2":4.3,"y":28},
{"p":"B","x":0.7,"x2":1.3,"y":29.6},{"p":"B","x":1.7,"x2":2.3,"y":24.9},{"p":"B","x":2.7,"x2":3.3,"y":28.2},{"p":"B","x":3.7,"x2":4.3,"y":13.9},
{"p":"C","x":0.7,"x2":1.3,"y":208},{"p":"C","x":1.7,"x2":2.3,"y":205},{"p":"C","x":2.7,"x2":3.3,"y":175},{"p":"C","x":3.7,"x2":4.3,"y":149},
{"p":"D","x":0.7,"x2":1.3,"y":512},{"p":"D","x":1.7,"x2":2.3,"y":467},{"p":"D","x":2.7,"x2":3.3,"y":396},{"p":"D","x":3.7,"x2":4.3,"y":315},
{"p":"E","x":0.7,"x2":1.3,"y":117.5},{"p":"E","x":1.7,"x2":2.3,"y":113},{"p":"E","x":2.7,"x2":3.3,"y":120.6},{"p":"E","x":3.7,"x2":4.3,"y":139},
{"p":"F","x":0.7,"x2":1.3,"y":330},{"p":"F","x":1.7,"x2":2.3,"y":322},{"p":"F","x":2.7,"x2":3.3,"y":326},{"p":"F","x":3.7,"x2":4.3,"y":343},
{"p":"G","x":0.7,"x2":1.3,"y":22.3},{"p":"G","x":1.7,"x2":2.3,"y":22},{"p":"G","x":2.7,"x2":3.3,"y":21.3},{"p":"G","x":3.7,"x2":4.3,"y":23.9},
{"p":"H","x":0.7,"x2":1.3,"y":65.6},{"p":"H","x":1.7,"x2":2.3,"y":64},{"p":"H","x":2.7,"x2":3.3,"y":63.3},{"p":"H","x":3.7,"x2":4.3,"y":76.8},
{"p":"I","x":0.7,"x2":1.3,"y":0.195},{"p":"I","x":1.7,"x2":2.3,"y":0.168},{"p":"I","x":2.7,"x2":3.3,"y":0.225},{"p":"I","x":3.7,"x2":4.3,"y":0.117},
{"p":"J","x":0.7,"x2":1.3,"y":0.074},{"p":"J","x":1.7,"x2":2.3,"y":0.076},{"p":"J","x":2.7,"x2":3.3,"y":0.097},{"p":"J","x":3.7,"x2":4.3,"y":0.059}
],
"br":[
{"p":"A","b":"A1","o":1,"x":2,"y":126,"c":"mut"},{"p":"A","b":"A1","o":2,"x":2,"y":138.5,"c":"mut"},{"p":"A","b":"A1","o":3,"x":4,"y":138.5,"c":"mut"},{"p":"A","b":"A1","o":4,"x":4,"y":130,"c":"mut"},
{"p":"A","b":"A2","o":1,"x":3,"y":107,"c":"geno"},{"p":"A","b":"A2","o":2,"x":3,"y":114,"c":"geno"},{"p":"A","b":"A2","o":3,"x":4,"y":114,"c":"geno"},{"p":"A","b":"A2","o":4,"x":4,"y":92,"c":"geno"},
{"p":"B","b":"B1","o":1,"x":3,"y":60.2,"c":"geno"},{"p":"B","b":"B1","o":2,"x":3,"y":63.3,"c":"geno"},{"p":"B","b":"B1","o":3,"x":4,"y":63.3,"c":"geno"},{"p":"B","b":"B1","o":4,"x":4,"y":32.7,"c":"geno"},
{"p":"C","b":"C1","o":1,"x":1,"y":296,"c":"wt"},{"p":"C","b":"C1","o":2,"x":1,"y":324,"c":"wt"},{"p":"C","b":"C1","o":3,"x":3,"y":324,"c":"wt"},{"p":"C","b":"C1","o":4,"x":3,"y":296,"c":"wt"},
{"p":"C","b":"C2","o":1,"x":2,"y":119,"c":"mut"},{"p":"C","b":"C2","o":2,"x":2,"y":44.7,"c":"mut"},{"p":"C","b":"C2","o":3,"x":4,"y":44.7,"c":"mut"},{"p":"C","b":"C2","o":4,"x":4,"y":98.5,"c":"mut"},
{"p":"D","b":"D1","o":1,"x":1,"y":644,"c":"wt"},{"p":"D","b":"D1","o":2,"x":1,"y":741,"c":"wt"},{"p":"D","b":"D1","o":3,"x":3,"y":741,"c":"wt"},{"p":"D","b":"D1","o":4,"x":3,"y":654,"c":"wt"},
{"p":"D","b":"D2","o":1,"x":2,"y":238,"c":"mut"},{"p":"D","b":"D2","o":2,"x":2,"y":89,"c":"mut"},{"p":"D","b":"D2","o":3,"x":4,"y":89,"c":"mut"},{"p":"D","b":"D2","o":4,"x":4,"y":95,"c":"mut"},
{"p":"E","b":"E1","o":1,"x":3,"y":153,"c":"geno"},{"p":"E","b":"E1","o":2,"x":3,"y":189,"c":"geno"},{"p":"E","b":"E1","o":3,"x":4,"y":189,"c":"geno"},{"p":"E","b":"E1","o":4,"x":4,"y":185,"c":"geno"},
{"p":"E","b":"E2","o":1,"x":2,"y":100,"c":"mut"},{"p":"E","b":"E2","o":2,"x":2,"y":84.6,"c":"mut"},{"p":"E","b":"E2","o":3,"x":4,"y":84.6,"c":"mut"},{"p":"E","b":"E2","o":4,"x":4,"y":95.4,"c":"mut"},
{"p":"G","b":"G1","o":1,"x":1,"y":24.7,"c":"wt"},{"p":"G","b":"G1","o":2,"x":1,"y":25.2,"c":"wt"},{"p":"G","b":"G1","o":3,"x":3,"y":25.2,"c":"wt"},{"p":"G","b":"G1","o":4,"x":3,"y":24.7,"c":"wt"},
{"p":"G","b":"G2","o":1,"x":3,"y":25.5,"c":"geno"},{"p":"G","b":"G2","o":2,"x":3,"y":26.25,"c":"geno"},{"p":"G","b":"G2","o":3,"x":4,"y":26.25,"c":"geno"},{"p":"G","b":"G2","o":4,"x":4,"y":25.96,"c":"geno"},
{"p":"G","b":"G3","o":1,"x":2,"y":20.17,"c":"mut"},{"p":"G","b":"G3","o":2,"x":2,"y":18.3,"c":"mut"},{"p":"G","b":"G3","o":3,"x":4,"y":18.3,"c":"mut"},{"p":"G","b":"G3","o":4,"x":4,"y":21.7,"c":"mut"},
{"p":"H","b":"H1","o":1,"x":3,"y":75.3,"c":"geno"},{"p":"H","b":"H1","o":2,"x":3,"y":102.8,"c":"geno"},{"p":"H","b":"H1","o":3,"x":4,"y":102.8,"c":"geno"},{"p":"H","b":"H1","o":4,"x":4,"y":100.8,"c":"geno"},
{"p":"H","b":"H2","o":1,"x":2,"y":59.2,"c":"mut"},{"p":"H","b":"H2","o":2,"x":2,"y":51.5,"c":"mut"},{"p":"H","b":"H2","o":3,"x":4,"y":51.5,"c":"mut"},{"p":"H","b":"H2","o":4,"x":4,"y":56.1,"c":"mut"},
{"p":"I","b":"I1","o":1,"x":3,"y":0.433,"c":"geno"},{"p":"I","b":"I1","o":2,"x":3,"y":0.449,"c":"geno"},{"p":"I","b":"I1","o":3,"x":4,"y":0.449,"c":"geno"},{"p":"I","b":"I1","o":4,"x":4,"y":0.254,"c":"geno"}
],
"lab":[
{"p":"A","x":3,"y":138.5,"t":"0.003"},{"p":"A","x":3.5,"y":114,"t":"0.0001"},
{"p":"B","x":3.5,"y":63.3,"t":"0.031"},
{"p":"C","x":2,"y":324,"t":"0.024"},{"p":"C","x":3,"y":44.7,"t":"0.004"},
{"p":"D","x":2,"y":741,"t":"0.0004"},{"p":"D","x":3,"y":89,"t":"0.001"},
{"p":"E","x":3.5,"y":189,"t":"0.001"},{"p":"E","x":3,"y":84.6,"t":"2x10⁻⁵"},
{"p":"G","x":2,"y":25.2,"t":"0.0003"},{"p":"G","x":3.5,"y":26.25,"t":"<10⁻⁶"},{"p":"G","x":3,"y":18.3,"t":"5x10⁻⁶"},
{"p":"H","x":3.5,"y":102.8,"t":"<10⁻⁶"},{"p":"H","x":3,"y":51.5,"t":"7x10⁻⁵"},
{"p":"I","x":3.5,"y":0.449,"t":"0.0002"}
]
},
"vconcat":[
 {"concat":[
   {"width":125,"height":130,
    "title":{"text":"pSTR, Inten -4","subtitle":"F(3,65) = 11.3","dx":-4,"offset":-8},
    "encoding":{
      "x":{"field":"x","type":"quantitative","scale":{"domain":[0.35,4.5],"nice":false,"zero":false},"axis":{"values":[1.5,2.5,3.5],"labelExpr":"datum.value==1.5?'6':datum.value==3.5?'16':''","tickOpacity":{"condition":{"test":"datum.value==2.5","value":1},"value":0},"title":"Amplitude (μV)","titleAngle":270,"titleAlign":"center","titleBaseline":"alphabetic","titleX":-31,"titleY":22}},
      "y":{"field":"y","type":"quantitative","scale":{"domain":[0,150],"nice":false},"axis":{"values":[0,50,100,150],"title":"A","titleAngle":0,"titleAlign":"left","titleBaseline":"alphabetic","titleX":-22,"titleY":-6}}},
    "layer":[
      {"data":{"name":"pts"},"transform":[{"filter":"datum.p=='A'"}],"mark":"point","encoding":{"stroke":{"field":"g","type":"nominal","scale":{"domain":[1,2,3,4],"range":["#3131b8","#e53a3a","#3131b8","#e53a3a"]},"legend":null}}},
      {"data":{"name":"means"},"transform":[{"filter":"datum.p=='A'"}],"mark":"rule","encoding":{"x2":{"field":"x2"}}},
      {"data":{"name":"br"},"transform":[{"filter":"datum.p=='A'"}],"mark":"line","encoding":{"detail":{"field":"b"},"order":{"field":"o"},"color":{"field":"c","type":"nominal","scale":{"domain":["wt","mut","geno"],"range":["#9dc3e6","#f29595","#000000"]},"legend":null}}},
      {"data":{"name":"lab"},"transform":[{"filter":"datum.p=='A'"}],"mark":"text","encoding":{"text":{"field":"t"}}}
    ]},
   {"width":138,"height":130,
    "title":{"text":"nSTR, Inten -4","subtitle":"F(3,63) = 3.4","dx":3,"offset":-14.5},
    "encoding":{
      "x":{"field":"x","type":"quantitative","scale":{"domain":[0.35,5.05],"nice":false,"zero":false},"axis":{"values":[1.5,2.5,3.5],"labelExpr":"datum.value==1.5?'6':datum.value==3.5?'16':''","tickOpacity":{"condition":{"test":"datum.value==2.5","value":1},"value":0},"title":null}},
      "y":{"field":"y","type":"quantitative","scale":{"domain":[0,80],"nice":false},"axis":{"values":[0,20,40,60,80],"title":"B","titleAngle":0,"titleAlign":"left","titleBaseline":"alphabetic","titleX":-20,"titleY":-12.5}}},
    "layer":[
      {"data":{"name":"pts"},"transform":[{"filter":"datum.p=='B'"}],"mark":"point","encoding":{"stroke":{"field":"g","type":"nominal","scale":{"domain":[1,2,3,4],"range":["#3131b8","#e53a3a","#3131b8","#e53a3a"]},"legend":null}}},
      {"data":{"name":"means"},"transform":[{"filter":"datum.p=='B'"}],"mark":"rule","encoding":{"x2":{"field":"x2"}}},
      {"data":{"name":"br"},"transform":[{"filter":"datum.p=='B'"}],"mark":"line","encoding":{"detail":{"field":"b"},"order":{"field":"o"},"color":{"field":"c","type":"nominal","scale":{"domain":["wt","mut","geno"],"range":["#9dc3e6","#f29595","#000000"]},"legend":null}}},
      {"data":{"name":"lab"},"transform":[{"filter":"datum.p=='B'"}],"mark":"text","encoding":{"text":{"field":"t"}}}
    ]},
   {"width":128,"height":130,
    "title":{"text":"pSTR, Inten -4","subtitle":"\u00a0\u00a0\u00a0\u00a0\u00a0\u00a0\u00a0\u00a0F(3,66) = 9.3","dx":-19,"offset":-17.5},
    "encoding":{
      "x":{"field":"x","type":"quantitative","scale":{"domain":[0.2,4.33],"nice":false,"zero":false},"axis":{"values":[1.5,2.5,3.5],"labelExpr":"datum.value==1.5?'6':datum.value==3.5?'16':''","tickOpacity":{"condition":{"test":"datum.value==2.5","value":1},"value":0},"title":"Latency (ms)","titleAngle":270,"titleAlign":"center","titleBaseline":"alphabetic","titleX":-23,"titleY":12}},
      "y":{"field":"y","type":"quantitative","scale":{"domain":[80,200],"nice":false,"zero":false},"axis":{"values":[80,100,120,140,160,180,200],"title":"E","titleAngle":0,"titleAlign":"left","titleBaseline":"alphabetic","titleX":-14,"titleY":-10.5}}},
    "layer":[
      {"data":{"name":"pts"},"transform":[{"filter":"datum.p=='E'"}],"mark":"point","encoding":{"stroke":{"field":"g","type":"nominal","scale":{"domain":[1,2,3,4],"range":["#3131b8","#e53a3a","#3131b8","#e53a3a"]},"legend":null}}},
      {"data":{"name":"means"},"transform":[{"filter":"datum.p=='E'"}],"mark":"rule","encoding":{"x2":{"field":"x2"}}},
      {"data":{"name":"br"},"transform":[{"filter":"datum.p=='E'"}],"mark":"line","encoding":{"detail":{"field":"b"},"order":{"field":"o"},"color":{"field":"c","type":"nominal","scale":{"domain":["wt","mut","geno"],"range":["#9dc3e6","#f29595","#000000"]},"legend":null}}},
      {"data":{"name":"lab"},"transform":[{"filter":"datum.p=='E'"}],"mark":"text","encoding":{"text":{"field":"t"}}}
    ]},
   {"width":128,"height":130,
    "title":{"text":"nSTR, Inten -4","subtitle":"F(3,63) = 0.5","dx":4,"offset":-17},
    "encoding":{
      "x":{"field":"x","type":"quantitative","scale":{"domain":[0.35,4.6],"nice":false,"zero":false},"axis":{"values":[1.5,2.5,3.5],"labelExpr":"datum.value==1.5?'6':datum.value==3.5?'16':''","tickOpacity":{"condition":{"test":"datum.value==2.5","value":1},"value":0},"title":null}},
      "y":{"field":"y","type":"quantitative","scale":{"domain":[0,500],"nice":false},"axis":{"values":[0,100,200,300,400,500],"title":"F","titleAngle":0,"titleAlign":"left","titleBaseline":"alphabetic","titleX":-26,"titleY":-8}}},
    "layer":[
      {"data":{"name":"pts"},"transform":[{"filter":"datum.p=='F'"}],"mark":"point","encoding":{"stroke":{"field":"g","type":"nominal","scale":{"domain":[1,2,3,4],"range":["#3131b8","#e53a3a","#3131b8","#e53a3a"]},"legend":null}}},
      {"data":{"name":"means"},"transform":[{"filter":"datum.p=='F'"}],"mark":"rule","encoding":{"x2":{"field":"x2"}}}
    ]},
   {"width":125,"height":130,
    "title":{"text":"a-wave, Inten 0","subtitle":"F(3,68) = 6.9","dx":-3,"offset":-12},
    "encoding":{
      "x":{"field":"x","type":"quantitative","scale":{"domain":[0.35,4.5],"nice":false,"zero":false},"axis":{"values":[1.5,2.5,3.5],"labelExpr":"datum.value==1.5?'6':datum.value==3.5?'16':''","tickOpacity":{"condition":{"test":"datum.value==2.5","value":1},"value":0},"title":"Age (months)","titleAlign":"center","titleBaseline":"alphabetic","titleX":135,"titleY":38}},
      "y":{"field":"y","type":"quantitative","scale":{"domain":[0,400],"nice":false},"axis":{"values":[0,100,200,300,400],"title":"C","titleAngle":0,"titleAlign":"left","titleBaseline":"alphabetic","titleX":-22,"titleY":-10}}},
    "layer":[
      {"data":{"name":"pts"},"transform":[{"filter":"datum.p=='C'"}],"mark":"point","encoding":{"stroke":{"field":"g","type":"nominal","scale":{"domain":[1,2,3,4],"range":["#3131b8","#e53a3a","#3131b8","#e53a3a"]},"legend":null}}},
      {"data":{"name":"means"},"transform":[{"filter":"datum.p=='C'"}],"mark":"rule","encoding":{"x2":{"field":"x2"}}},
      {"data":{"name":"br"},"transform":[{"filter":"datum.p=='C'"}],"mark":"line","encoding":{"detail":{"field":"b"},"order":{"field":"o"},"color":{"field":"c","type":"nominal","scale":{"domain":["wt","mut","geno"],"range":["#9dc3e6","#f29595","#000000"]},"legend":null}}},
      {"data":{"name":"lab"},"transform":[{"filter":"datum.p=='C'"}],"mark":"text","encoding":{"text":{"field":"t"}}}
    ]},
   {"width":138,"height":130,
    "title":{"text":"b-wave, Inten 0","subtitle":"F(3,68) = 12","dx":4,"offset":-12},
    "encoding":{
      "x":{"field":"x","type":"quantitative","scale":{"domain":[0.35,5.05],"nice":false,"zero":false},"axis":{"values":[1.5,2.5,3.5],"labelExpr":"datum.value==1.5?'6':datum.value==3.5?'16':''","tickOpacity":{"condition":{"test":"datum.value==2.5","value":1},"value":0},"title":null}},
      "y":{"field":"y","type":"quantitative","scale":{"domain":[0,800],"nice":false},"axis":{"values":[0,200,400,600,800],"title":"D","titleAngle":0,"titleAlign":"left","titleBaseline":"alphabetic","titleX":-21,"titleY":-10}}},
    "layer":[
      {"data":{"name":"pts"},"transform":[{"filter":"datum.p=='D'"}],"mark":"point","encoding":{"stroke":{"field":"g","type":"nominal","scale":{"domain":[1,2,3,4],"range":["#3131b8","#e53a3a","#3131b8","#e53a3a"]},"legend":null}}},
      {"data":{"name":"means"},"transform":[{"filter":"datum.p=='D'"}],"mark":"rule","encoding":{"x2":{"field":"x2"}}},
      {"data":{"name":"br"},"transform":[{"filter":"datum.p=='D'"}],"mark":"line","encoding":{"detail":{"field":"b"},"order":{"field":"o"},"color":{"field":"c","type":"nominal","scale":{"domain":["wt","mut","geno"],"range":["#9dc3e6","#f29595","#000000"]},"legend":null}}},
      {"data":{"name":"lab"},"transform":[{"filter":"datum.p=='D'"}],"mark":"text","encoding":{"text":{"field":"t"}}}
    ]},
   {"width":128,"height":130,
    "title":{"text":"a-wave, Inten 0","subtitle":"\u00a0\u00a0\u00a0\u00a0\u00a0\u00a0F(3,68) = 22.2","dx":-16,"offset":-20},
    "encoding":{
      "x":{"field":"x","type":"quantitative","scale":{"domain":[0.05,4.35],"nice":false,"zero":false},"axis":{"values":[1.5,2.5,3.5],"labelExpr":"datum.value==1.5?'6':datum.value==3.5?'16':''","tickOpacity":{"condition":{"test":"datum.value==2.5","value":1},"value":0},"title":"Age (months)","titleAlign":"center","titleBaseline":"alphabetic","titleX":150,"titleY":34}},
      "y":{"field":"y","type":"quantitative","scale":{"domain":[18,28],"nice":false,"zero":false},"axis":{"values":[18,20,22,24,26,28],"title":"G","titleAngle":0,"titleAlign":"left","titleBaseline":"alphabetic","titleX":-20,"titleY":-13}}},
    "layer":[
      {"data":{"name":"pts"},"transform":[{"filter":"datum.p=='G'"}],"mark":"point","encoding":{"stroke":{"field":"g","type":"nominal","scale":{"domain":[1,2,3,4],"range":["#3131b8","#e53a3a","#3131b8","#e53a3a"]},"legend":null}}},
      {"data":{"name":"means"},"transform":[{"filter":"datum.p=='G'"}],"mark":"rule","encoding":{"x2":{"field":"x2"}}},
      {"data":{"name":"br"},"transform":[{"filter":"datum.p=='G'"}],"mark":"line","encoding":{"detail":{"field":"b"},"order":{"field":"o"},"color":{"field":"c","type":"nominal","scale":{"domain":["wt","mut","geno"],"range":["#9dc3e6","#f29595","#000000"]},"legend":null}}},
      {"data":{"name":"lab"},"transform":[{"filter":"datum.p=='G'"}],"mark":"text","encoding":{"text":{"field":"t"}}}
    ]},
   {"width":128,"height":130,
    "title":{"text":"b-wave, Inten 0","subtitle":"F(3,68) = 10.2","dx":8,"offset":-19.5},
    "encoding":{
      "x":{"field":"x","type":"quantitative","scale":{"domain":[0.35,4.6],"nice":false,"zero":false},"axis":{"values":[1.5,2.5,3.5],"labelExpr":"datum.value==1.5?'6':datum.value==3.5?'16':''","tickOpacity":{"condition":{"test":"datum.value==2.5","value":1},"value":0},"title":null}},
      "y":{"field":"y","type":"quantitative","scale":{"domain":[50,110],"nice":false,"zero":false},"axis":{"values":[50,60,70,80,90,100,110],"title":"H","titleAngle":0,"titleAlign":"left","titleBaseline":"alphabetic","titleX":-26,"titleY":-10.5}}},
    "layer":[
      {"data":{"name":"pts"},"transform":[{"filter":"datum.p=='H'"}],"mark":"point","encoding":{"stroke":{"field":"g","type":"nominal","scale":{"domain":[1,2,3,4],"range":["#3131b8","#e53a3a","#3131b8","#e53a3a"]},"legend":null}}},
      {"data":{"name":"means"},"transform":[{"filter":"datum.p=='H'"}],"mark":"rule","encoding":{"x2":{"field":"x2"}}},
      {"data":{"name":"br"},"transform":[{"filter":"datum.p=='H'"}],"mark":"line","encoding":{"detail":{"field":"b"},"order":{"field":"o"},"color":{"field":"c","type":"nominal","scale":{"domain":["wt","mut","geno"],"range":["#9dc3e6","#f29595","#000000"]},"legend":null}}},
      {"data":{"name":"lab"},"transform":[{"filter":"datum.p=='H'"}],"mark":"text","encoding":{"text":{"field":"t"}}}
    ]}
 ],"columns":4,"spacing":{"row":65,"column":40},"bounds":"flush","align":"each"},
 {"hconcat":[
   {"width":128,"height":130,
    "title":{"text":"pSTR, Inten -4","subtitle":"F(3,65) = 7.0","dx":10,"offset":-23},
    "encoding":{
      "x":{"field":"x","type":"quantitative","scale":{"domain":[0.35,4.6],"nice":false,"zero":false},"axis":{"values":[1.5,2.5,3.5],"labelExpr":"datum.value==1.5?'6':datum.value==3.5?'16':''","tickOpacity":{"condition":{"test":"datum.value==2.5","value":1},"value":0},"title":"I","titleFontSize":19,"titleFontWeight":"bold","titleAngle":0,"titleAlign":"left","titleBaseline":"alphabetic","titleX":-26,"titleY":-144}},
      "y":{"field":"y","type":"quantitative","scale":{"domain":[0,0.5],"nice":false},"axis":{"values":[0,0.1,0.2,0.3,0.4,0.5],"format":".1f","title":"Normalized Amplitude","titleFontSize":19.5,"titleFontWeight":"normal","titleAngle":270,"titleAlign":"center","titleBaseline":"alphabetic","titleX":-35,"titleY":60}}},
    "layer":[
      {"data":{"name":"pts"},"transform":[{"filter":"datum.p=='I'"}],"mark":"point","encoding":{"stroke":{"field":"g","type":"nominal","scale":{"domain":[1,2,3,4],"range":["#3131b8","#e53a3a","#3131b8","#e53a3a"]},"legend":null}}},
      {"data":{"name":"means"},"transform":[{"filter":"datum.p=='I'"}],"mark":"rule","encoding":{"x2":{"field":"x2"}}},
      {"data":{"name":"br"},"transform":[{"filter":"datum.p=='I'"}],"mark":"line","encoding":{"detail":{"field":"b"},"order":{"field":"o"},"color":{"field":"c","type":"nominal","scale":{"domain":["wt","mut","geno"],"range":["#9dc3e6","#f29595","#000000"]},"legend":null}}},
      {"data":{"name":"lab"},"transform":[{"filter":"datum.p=='I'"}],"mark":"text","encoding":{"text":{"field":"t"}}}
    ]},
   {"width":128,"height":130,
    "title":{"text":"nSTR, Inten -4","subtitle":"F(3,63) = 1.6","dx":12,"offset":-17},
    "encoding":{
      "x":{"field":"x","type":"quantitative","scale":{"domain":[0.35,4.6],"nice":false,"zero":false},"axis":{"values":[1.5,2.5,3.5],"labelExpr":"datum.value==1.5?'6':datum.value==3.5?'16':''","tickOpacity":{"condition":{"test":"datum.value==2.5","value":1},"value":0},"title":"Age (months)","titleAlign":"center","titleBaseline":"alphabetic","titleX":-35,"titleY":31}},
      "y":{"field":"y","type":"quantitative","scale":{"domain":[0,0.4],"nice":false},"axis":{"values":[0,0.1,0.2,0.3,0.4],"format":".1f","title":"J","titleAngle":0,"titleAlign":"left","titleBaseline":"alphabetic","titleX":-24,"titleY":-12}}},
    "layer":[
      {"data":{"name":"pts"},"transform":[{"filter":"datum.p=='J'"}],"mark":"point","encoding":{"stroke":{"field":"g","type":"nominal","scale":{"domain":[1,2,3,4],"range":["#3131b8","#e53a3a","#3131b8","#e53a3a"]},"legend":null}}},
      {"data":{"name":"means"},"transform":[{"filter":"datum.p=='J'"}],"mark":"rule","encoding":{"x2":{"field":"x2"}}}
    ]}
 ],"spacing":41,"bounds":"flush"}
],
"spacing":11
}
